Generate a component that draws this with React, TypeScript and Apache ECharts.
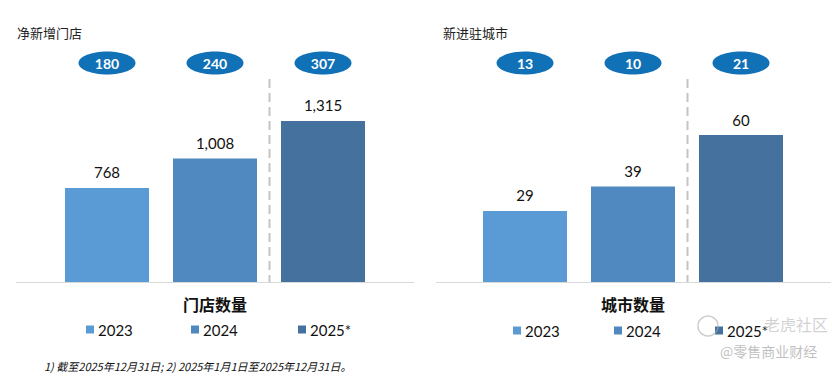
import React, { useEffect, useRef } from "react";
import * as echarts from "echarts";

const years = ["2023", "2024", "2025*"];
const storeCounts = [768, 1008, 1315];
const cityCounts = [29, 39, 60];
const newStores = [180, 240, 307];
const newCities = [13, 10, 21];
const panelTitles = ["净新增门店", "新进驻城市"];
const axisNames = ["门店数量", "城市数量"];
const footnote = "1) 截至2025年12月31日; 2) 2025年1月1日至2025年12月31日。";

const barColors = ["#5b9bd5", "#4f89bf", "#44719d"];
const ovalColor = "#1071b6";
const NUM_FONT = "Lato, 'Open Sans', sans-serif";
const CJK_FONT = "'Noto Sans CJK SC', sans-serif";

export default function App() {
  const ref = useRef<HTMLDivElement>(null);

  useEffect(() => {
    if (!ref.current) return;
    const chart = echarts.init(ref.current, null, { renderer: "svg" });

    const panels = [
      { counts: storeCounts, ovals: newStores, max: 2000, left: 53 },
      { counts: cityCounts, ovals: newCities, max: 100, left: 471 },
    ];

    const series: any[] = [];
    panels.forEach((p, pi) => {
      years.forEach((y, i) => {
        series.push({
          type: "bar",
          name: y,
          xAxisIndex: pi,
          yAxisIndex: pi,
          data: p.counts.map((v, j) => (j === i ? v : "-")),
          barWidth: 84,
          barGap: "-100%",
          itemStyle: { color: barColors[i] },
          label: {
            show: true,
            position: "top",
            distance: 8,
            color: "#111",
            fontSize: 15,
            fontFamily: NUM_FONT,
            formatter: (prm: any) => Number(prm.value).toLocaleString("en-US"),
          },
        });
      });
      series.push({
        type: "custom",
        xAxisIndex: pi,
        yAxisIndex: pi,
        silent: true,
        data: p.ovals.map((v, i) => [i, v]),
        encode: { x: 0, y: 1 },
        renderItem: (params: any, api: any) => {
          const idx = api.value(0);
          const x = api.coord([idx, 0])[0];
          const base = api.coord([idx, 0])[1];
          const band = api.size([1, 0])[0];
          const top = params.coordSys.y;
          const cy = top + 26;
          const children: any[] = [
            {
              type: "ellipse",
              shape: { cx: x, cy, rx: 28.5, ry: 11.5 },
              style: { fill: ovalColor },
            },
            {
              type: "text",
              x,
              y: cy,
              style: {
                text: String(api.value(1)),
                fill: "#fff",
                font: `bold 14px ${NUM_FONT}`,
                align: "center",
                verticalAlign: "middle",
              },
            },
          ];
          if (idx === years.length - 1) {
            const lx = Math.round(x - band / 2) + 0.5;
            children.push({
              type: "line",
              shape: { x1: lx, y1: top + 42, x2: lx, y2: base },
              style: { stroke: "#c4c4c4", lineWidth: 2, lineDash: [9, 5] },
            });
          }
          return { type: "group", children };
        },
      });
    });

    const legendLeft = [
      [86, 191, 298],
      [513, 614, 715],
    ];
    const legendTop = [322, 323];
    const legends: any[] = [];
    legendLeft.forEach((arr, pi) =>
      arr.forEach((l, i) =>
        legends.push({
          data: [years[i]],
          left: l,
          top: legendTop[pi],
          padding: 0,
          itemWidth: 8,
          itemHeight: 8,
          itemGap: 0,
          icon: "rect",
          selectedMode: false,
          textStyle: { fontSize: 15, fontFamily: NUM_FONT, color: "#111", padding: [0, 0, 0, -1] },
        })
      )
    );

    chart.setOption({
      animation: false,
      backgroundColor: "#fff",
      grid: panels.map((p) => ({ left: p.left, width: 324, top: 37, height: 245 })),
      xAxis: panels.map((p, pi) => ({
        type: "category",
        gridIndex: pi,
        data: years,
        axisLine: { show: false },
        axisTick: { show: false },
        axisLabel: { show: false },
        splitLine: { show: false },
        name: axisNames[pi],
        nameLocation: "middle",
        nameGap: 14,
        nameTextStyle: { fontSize: 16, fontWeight: "bold", fontFamily: CJK_FONT, color: "#111" },
      })),
      yAxis: panels.map((p, pi) => ({
        type: "value",
        gridIndex: pi,
        min: 0,
        max: p.max,
        show: false,
      })),
      legend: legends,
      series,
      graphic: [
        {
          type: "text",
          left: 17,
          top: 26,
          style: { text: panelTitles[0], font: `13px ${CJK_FONT}`, fill: "#222" },
        },
        {
          type: "text",
          left: 443,
          top: 26,
          style: { text: panelTitles[1], font: `13px ${CJK_FONT}`, fill: "#222" },
        },
        {
          type: "line",
          shape: { x1: 16, y1: 282.5, x2: 414, y2: 282.5 },
          style: { stroke: "#d9d9d9", lineWidth: 1 },
        },
        {
          type: "line",
          shape: { x1: 436, y1: 282.5, x2: 831, y2: 282.5 },
          style: { stroke: "#d9d9d9", lineWidth: 1 },
        },
        {
          type: "text",
          left: 44,
          top: 360,
          style: {
            text: footnote,
            font: `italic 11px ${CJK_FONT}`,
            fill: "#111",
          },
        },
        {
          type: "circle",
          shape: { cx: 708, cy: 326, r: 10 },
          style: { fill: "none", stroke: "rgba(170,170,170,0.6)", lineWidth: 1.5 },
          z: 100,
        },
        {
          type: "text",
          left: 764,
          top: 316,
          z: 100,
          style: {
            text: "老虎社区",
            font: `16px ${CJK_FONT}`,
            fill: "rgba(180,180,180,0.6)",
          },
        },
        {
          type: "text",
          left: 720,
          top: 344,
          z: 100,
          style: {
            text: "@零售商业财经",
            font: `14px ${CJK_FONT}`,
            fill: "rgba(170,170,170,0.75)",
          },
        },
      ],
    });

    return () => chart.dispose();
  }, []);

  return (
    <div
      ref={ref}
      style={{ position: "absolute", left: 0, top: 0, width: 832, height: 378 }}
    />
  );
}
